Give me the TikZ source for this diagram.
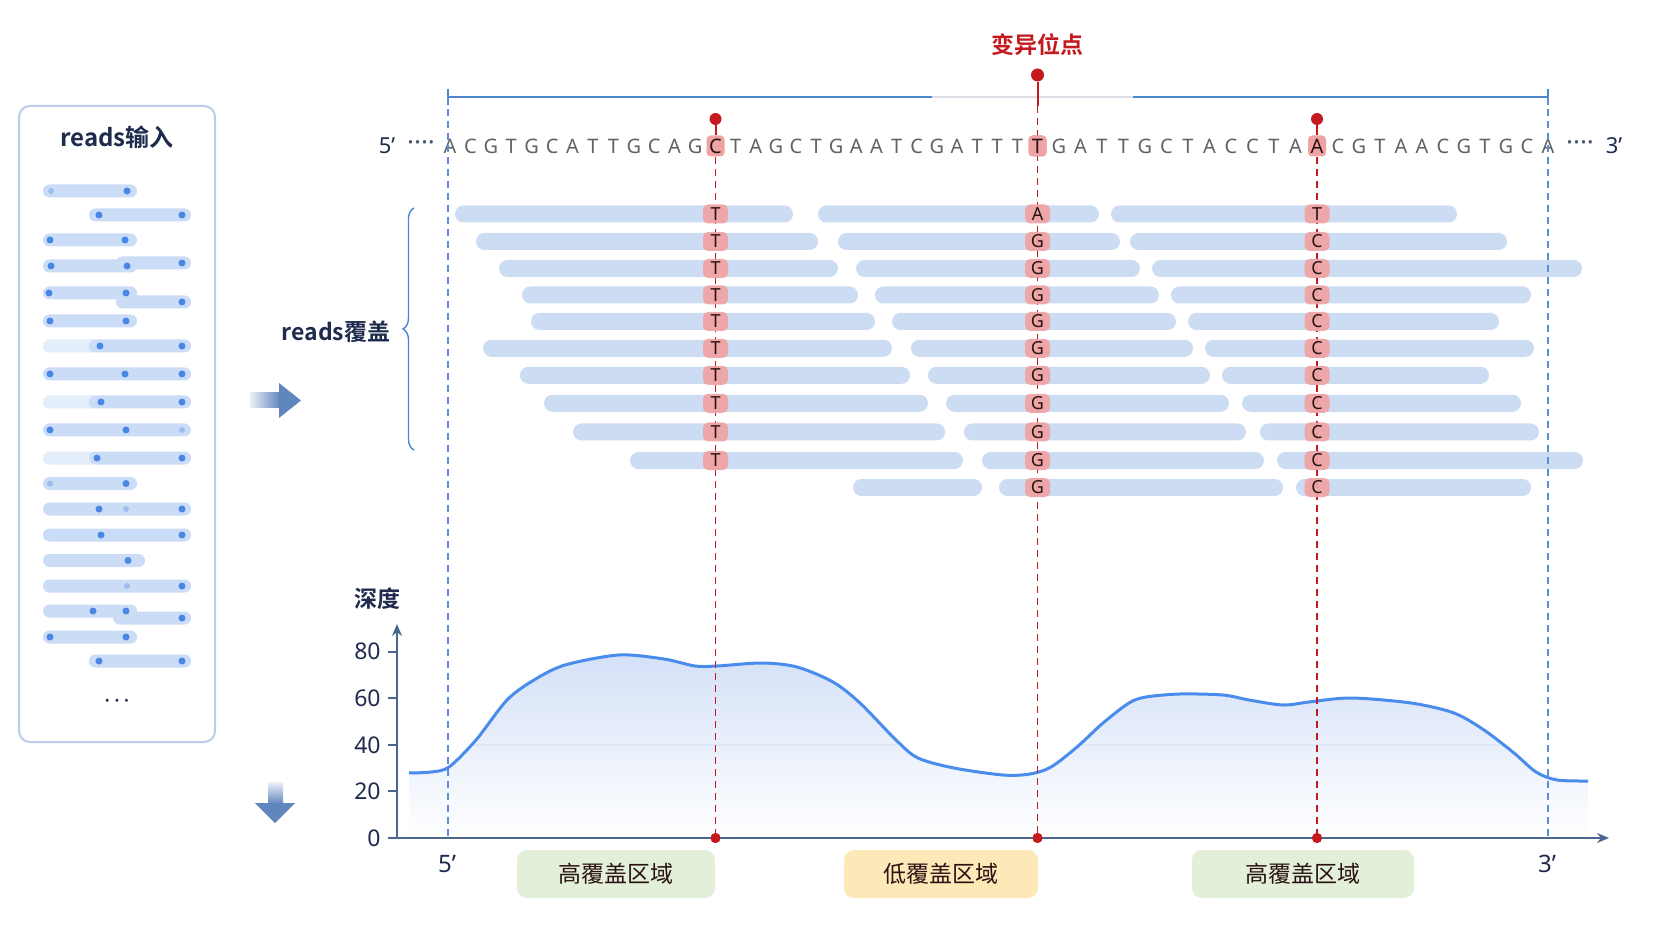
\documentclass[tikz,border=0pt]{standalone}
\usepackage{fontspec}
\setmainfont{Noto Sans CJK SC}[BoldFont={* Bold}]
\newfontfamily\latinfont{Noto Sans}
\usetikzlibrary{arrows.meta,decorations.pathreplacing}

\definecolor{navy}{HTML}{1E2B4D}
\definecolor{pinred}{HTML}{C41A1F}
\definecolor{snpred}{HTML}{F0A3A3}
\definecolor{snptext}{HTML}{2A1212}
\definecolor{readblue}{HTML}{CCDCF2}
\definecolor{lineblue}{HTML}{4F86D0}
\definecolor{dashblue}{HTML}{5A8EDB}
\definecolor{lightgray}{HTML}{DCE0E6}
\definecolor{seqgray}{HTML}{626262}
\definecolor{axisc}{HTML}{4B6790}
\definecolor{curveblue}{HTML}{4A8CEB}
\definecolor{fillblue}{HTML}{D3E0F7}
\definecolor{greenbox}{HTML}{E3EFD9}
\definecolor{yellowbox}{HTML}{FDE8B8}
\definecolor{panelblue}{HTML}{B9CDEB}
\definecolor{minibar}{HTML}{CADCF6}
\definecolor{minifade}{HTML}{E4EDFA}
\definecolor{dotblue}{HTML}{4A86E3}
\definecolor{arrowblue}{HTML}{6186BD}

\tikzstyle{readbar}=[fill=readblue,rounded corners=4.2pt]
\tikzstyle{minibox}=[fill=minibar,rounded corners=3.2pt]
\tikzstyle{minidot}=[fill=dotblue]
\tikzstyle{snpbox}=[fill=snpred,fill opacity=.92,text opacity=1,rounded corners=2.5pt,minimum width=12.5pt,minimum height=9.5pt,inner sep=0pt,text=snptext,font=\latinfont\fontsize{9}{9}\selectfont]
\tikzstyle{refbase}=[inner sep=0pt,text=seqgray,font=\latinfont\fontsize{10}{10}\selectfont]
\tikzstyle{refsnp}=[fill=snpred,rounded corners=2pt,minimum width=9pt,minimum height=10.5pt,inner sep=0pt,text=snptext,font=\latinfont\fontsize{10}{10}\selectfont]
\tikzstyle{pinhead}=[circle,fill=pinred,inner sep=0pt]
\tikzstyle{sitedash}=[pinred,line width=0.6pt,dash pattern=on 3.5pt off 2.5pt]
\tikzstyle{enddash}=[dashblue,line width=0.6pt,dash pattern=on 3.5pt off 2.5pt]
\tikzstyle{region}=[rounded corners=5pt,minimum height=24pt,inner sep=0pt,text=snptext,font=\fontsize{11.5}{12}\selectfont]
\tikzstyle{headlabel}=[text=navy,font=\bfseries\fontsize{11.5}{12}\selectfont]
\tikzstyle{ticklabel}=[text=navy,anchor=east,inner sep=0pt,font=\latinfont\fontsize{11.5}{12}\selectfont]
\tikzstyle{endlabel}=[text=navy,inner sep=0pt,font=\latinfont\fontsize{12}{12}\selectfont]
\tikzstyle{seqdots}=[inner sep=0pt,text=navy!80,font=\latinfont\bfseries\fontsize{13}{13}\selectfont]

\begin{document}
\begin{tikzpicture}[x=0.5pt,y=-0.5pt]
\useasboundingbox (0,0) rectangle (1672,941);

\draw[panelblue,line width=1pt,rounded corners=5.5pt] (19,106) rectangle (215,742);
\node[headlabel,font=\bfseries\fontsize{12}{12}\selectfont] (inhead) at (117,137) {reads输入};
\foreach \a/\b/\y in {43/100/346,43/100/402,43/100/458}
  \fill[minibox,fill=minifade] (\a,\y-6.5) rectangle (\b,\y+6.5);
\foreach \a/\b/\y in {43/137/191,89/191/215,43/137/240,43/137/266,116/191/263,43/137/293,116/191/302,43/137/321,89/191/346,43/191/374,89/191/402,43/191/430,89/191/458,43/137/483.5,43/191/509,43/191/535,43/145/560.5,43/191/586,43/137/611,113/191/618,43/137/637,89/191/661}
  \fill[minibox] (\a,\y-6.5) rectangle (\b,\y+6.5);
\foreach \x/\y in {127/191,99/215,182/215,50/240,125/240,51/266,127/266,182/263,49/293,126/293,182/302,50/321,126/321,100/346,182/346,50/374,125/374,182/374,101/402,182/402,50/430,126/430,97/458,182/458,126/483.5,99/509,182/509,101/535,182/535,128/560.5,182/586,93/611,126/611,182/618,50/637,126/637,99/661,182/661}
  \fill[minidot] (\x,\y) circle (1.75pt);
\foreach \x/\y in {51/191,182/430,50/483.5,126/509,127/586}
  \fill[minidot,opacity=.35] (\x,\y) circle (1.5pt);
\node[text=navy,font=\latinfont\bfseries\fontsize{11}{11}\selectfont] (more) at (117,704) {·\,·\,·};

\shade[left color=arrowblue!12,right color=arrowblue] (250,393) rectangle (280,408);
\fill[arrowblue] (279,383) -- (301,400.5) -- (279,418) -- cycle;
\shade[top color=arrowblue!12,bottom color=arrowblue] (268,782) rectangle (283,804);
\fill[arrowblue] (255,803) -- (295,803) -- (275,823) -- cycle;

\node[text=pinred,font=\bfseries\fontsize{11.5}{12}\selectfont] (sitehead) at (1037.5,45) {变异位点};
\coordinate (lend) at (448,97);
\coordinate (rend) at (1548,97);
\draw[lineblue,line width=1.1pt] (lend) -- (932,97);
\draw[lightgray,line width=1.1pt] (932,97) -- (1133,97);
\draw[lineblue,line width=1.1pt] (1133,97) -- (rend);
\draw[lineblue,line width=1.1pt] (448,89) -- (448,105) (1548,89) -- (1548,105);

\node[endlabel,font=\latinfont\fontsize{11}{11}\selectfont] (top5) at (387,146) {5’};
\node[seqdots] (ldots) at (421,146) {····};
\foreach \c [count=\i from 0] in {A,C,G,T,G,C,A,T,T,G,C,A,G}
  \node[refbase] (sa\i) at (450+\i*20.42,146) {\c};
\foreach \c [count=\i] in {T,A,G,C,T,G,A,A,T,C,G,A,T,T,T}
  \node[refbase] (sb\i) at (715.5+\i*20.125,146) {\c};
\foreach \c [count=\i] in {G,A,T,T,G,C,T,A,C,C,T,A}
  \node[refbase] (sc\i) at (1037.5+\i*21.5,146) {\c};
\foreach \c [count=\i] in {C,G,T,A,A,C,G,T,G,C,A}
  \node[refbase] (sd\i) at (1317+\i*21,146) {\c};
\node[seqdots] (rdots) at (1580,146) {····};
\node[endlabel,font=\latinfont\fontsize{11}{11}\selectfont] (top3) at (1614,146) {3’};

\node[refsnp] (ref1) at (715.5,146) {C};
\node[refsnp] (ref2) at (1037.5,146) {T};
\node[refsnp] (ref3) at (1317,146) {A};
\node[pinhead,minimum size=6pt] (pin1) at (715.5,119) {};
\node[pinhead,minimum size=6.5pt] (pin2) at (1037.5,75) {};
\node[pinhead,minimum size=6pt] (pin3) at (1317,119) {};
\coordinate (knee2) at (1037.5,106);
\draw[pinred,line width=1pt] (pin1) -- (ref1.north);
\draw[pinred,line width=1pt] (pin2) -- (knee2);
\draw[pinred,line width=1pt] (pin3) -- (ref3.north);

\node[headlabel] (covhead) at (336,332) {reads覆盖};
\draw[lineblue,line width=0.7pt,decorate,decoration={brace,amplitude=5.5pt}] (414,450) -- (414,208);

\foreach \y/\a/\b/\c/\d/\e/\f in {214/455/793/818/1099/1111/1457,241.5/476/818/838/1120/1130/1507,268.5/499/838/856/1140/1152/1582,295/522/858/875/1159/1171/1531,321.5/531/875/892/1176/1188/1499,348.3/483/892/911/1193/1205/1534,375.3/520/910/928/1210/1222/1489,403.3/544/928/946/1229/1242/1521,432/573/945/964/1246/1260/1539,460.5/630/963/982/1264/1277/1583,487.5/853/982/999/1283/1296/1531}{
  \fill[readbar] (\a,\y-8.5) rectangle (\b,\y+8.5);
  \fill[readbar] (\c,\y-8.5) rectangle (\d,\y+8.5);
  \fill[readbar] (\e,\y-8.5) rectangle (\f,\y+8.5);
}

\begin{scope}
\clip plot[smooth] coordinates {(409,773) (431,772) (449,767) (476,740) (507,700) (534,680) (565,665) (619,655) (664,659) (695,666) (717,666) (762,663) (797,667) (833,682) (860,703) (896,740) (918,758) (954,768) (1003,775) (1030,774) (1051,767) (1077,747) (1103,723) (1129,703) (1146,697) (1180,694) (1223,695) (1249,700) (1283,705) (1309,702) (1351,698) (1411,703) (1454,713) (1484,730) (1514,753) (1536,772) (1557,780) (1588,781)} -- (1588,838) -- (409,838) -- cycle;
\shade[top color=fillblue,bottom color=white] (409,650) rectangle (1588,838);
\draw[fillblue!70!white,line width=0.6pt] (409,698) -- (1588,698) (409,745) -- (1588,745);
\end{scope}
\draw[curveblue,line width=1.5pt] plot[smooth] coordinates {(409,773) (431,772) (449,767) (476,740) (507,700) (534,680) (565,665) (619,655) (664,659) (695,666) (717,666) (762,663) (797,667) (833,682) (860,703) (896,740) (918,758) (954,768) (1003,775) (1030,774) (1051,767) (1077,747) (1103,723) (1129,703) (1146,697) (1180,694) (1223,695) (1249,700) (1283,705) (1309,702) (1351,698) (1411,703) (1454,713) (1484,730) (1514,753) (1536,772) (1557,780) (1588,781)};

\node[pinhead,minimum size=5pt] (dot1) at (715.5,838) {};
\node[pinhead,minimum size=5pt] (dot2) at (1037.5,838) {};
\node[pinhead,minimum size=5pt] (dot3) at (1317,838) {};
\coordinate (lfoot) at (448,838);
\coordinate (rfoot) at (1548,838);
\draw[enddash] (lend) -- (lfoot);
\draw[enddash] (rend) -- (rfoot);
\draw[sitedash] (ref1.south) -- (dot1);
\draw[sitedash] (knee2) -- (dot2);
\draw[sitedash] (ref3.south) -- (dot3);
\node[refsnp] at (ref2) {T};

\foreach \y [count=\i] in {214,241.5,268.5,295,321.5,348.3,375.3,403.3,432,460.5}
  \node[snpbox] (ta\i) at (715.5,\y) {T};
\foreach \y/\b [count=\i] in {214/A,241.5/G,268.5/G,295/G,321.5/G,348.3/G,375.3/G,403.3/G,432/G,460.5/G,487.5/G}
  \node[snpbox] (tb\i) at (1037.5,\y) {\b};
\foreach \y/\b [count=\i] in {214/T,241.5/C,268.5/C,295/C,321.5/C,348.3/C,375.3/C,403.3/C,432/C,460.5/C,487.5/C}
  \node[snpbox] (tc\i) at (1317,\y) {\b};

\coordinate (origin) at (397,838);
\coordinate (ytip) at (397,624);
\coordinate (xtip) at (1609,838);
\draw[axisc,line width=1.1pt,-{Stealth[length=6pt,width=5pt]}] (origin) -- (ytip);
\draw[axisc,line width=1.1pt,-{Stealth[length=6pt,width=5pt]}] (origin) -- (xtip);
\foreach \v in {0,20,40,60,80}{
  \draw[axisc,line width=1pt] (388,838-2.33*\v) -- (397,838-2.33*\v);
  \node[ticklabel] (tick\v) at (381,838-2.33*\v) {\v};
}
\node[headlabel] (depthhead) at (377,599) {深度};
\node[pinhead,minimum size=5pt] at (dot1) {};
\node[pinhead,minimum size=5pt] at (dot2) {};
\node[pinhead,minimum size=5pt] at (dot3) {};

\node[endlabel] (bot5) at (447,864) {5’};
\node[endlabel] (bot3) at (1547,864) {3’};
\node[region,fill=greenbox,minimum width=99pt] (hiA) at (616,874) {高覆盖区域};
\node[region,fill=yellowbox,minimum width=97pt] (lo) at (941,874) {低覆盖区域};
\node[region,fill=greenbox,minimum width=111pt] (hiB) at (1303,874) {高覆盖区域};
\end{tikzpicture}
\end{document}
